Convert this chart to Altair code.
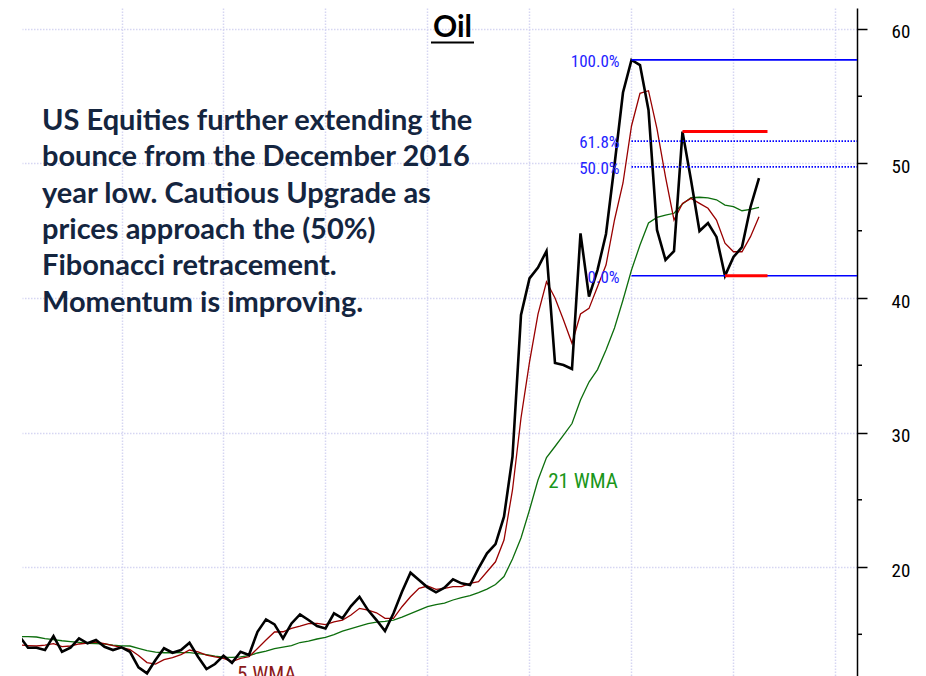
import altair as alt
import pandas as pd

# ---- data (monthly points, index 0..87) ----
CLOSE = [14.85, 14.0, 14.0, 13.83, 14.87, 13.70, 14.0, 14.70, 14.33, 14.57,
         14.07, 13.83, 14.03, 13.70, 12.54, 12.10, 13.09, 13.96, 13.63, 13.83,
         14.37, 13.33, 12.42, 12.79, 13.41, 12.88, 13.70, 13.46, 15.19, 16.11,
         15.74, 14.70, 15.81, 16.48, 16.06, 15.61, 15.44, 16.56, 16.19, 17.10,
         17.79, 16.80, 16.06, 15.24, 16.56, 18.16, 19.58, 19.03, 18.49, 18.12,
         18.46, 19.09, 18.79, 18.66, 19.90, 21.02, 21.71, 23.74, 28.20, 38.74,
         41.46, 42.27, 43.49, 35.17, 35.02, 34.72, 44.81, 40.10, 42.08, 44.76,
         49.89, 55.28, 57.70, 57.32, 53.98, 45.06, 42.83, 43.49, 52.37, 48.77,
         44.98, 45.58, 44.54, 41.65, 43.05, 43.79, 46.77, 48.92]
WMA5 = [14.20, 14.16, 14.13, 14.20, 14.31, 14.09, 14.13, 14.28, 14.35, 14.42,
        14.31, 14.16, 14.03, 13.87, 13.42, 12.90, 12.79, 13.12, 13.27, 13.49,
        13.83, 13.70, 13.46, 13.33, 13.21, 12.97, 13.21, 13.33, 13.94, 14.57,
        15.17, 15.19, 15.44, 15.61, 15.80, 15.81, 15.72, 15.93, 16.06, 16.43,
        16.93, 16.80, 16.60, 16.19, 16.19, 17.05, 17.79, 18.42, 18.59, 18.34,
        18.42, 18.54, 18.54, 18.79, 18.91, 19.65, 20.39, 22.01, 25.73, 31.08,
        35.24, 38.81, 41.21, 40.00, 38.36, 36.63, 38.81, 39.23, 40.84, 42.45,
        45.80, 48.55, 52.79, 55.22, 55.41, 52.57, 49.00, 45.80, 47.03, 47.41,
        47.04, 46.67, 45.80, 44.07, 43.44, 43.44, 44.56, 46.04]
WMA21 = [14.82, 14.82, 14.80, 14.68, 14.61, 14.52, 14.46, 14.40, 14.33, 14.31,
         14.28, 14.20, 14.14, 14.13, 13.96, 13.79, 13.68, 13.63, 13.63, 13.64,
         13.64, 13.57, 13.49, 13.38, 13.31, 13.29, 13.32, 13.42, 13.61, 13.75,
         13.94, 14.05, 14.16, 14.39, 14.50, 14.65, 14.77, 14.98, 15.24, 15.43,
         15.61, 15.80, 15.90, 15.96, 16.06, 16.28, 16.54, 16.80, 17.06, 17.20,
         17.32, 17.55, 17.73, 17.88, 18.10, 18.36, 18.70, 19.29, 20.59, 22.16,
         24.24, 26.47, 28.14, 28.96, 29.81, 30.67, 32.42, 33.75, 34.68, 36.13,
         37.77, 39.85, 42.08, 43.94, 45.58, 45.99, 46.17, 46.30, 46.99, 47.47,
         47.49, 47.45, 47.30, 46.91, 46.79, 46.49, 46.59, 46.74]

FIB_LABELS = ["100.0%", "61.8%", "50.0%", "0.0%"]
FIB_LEVELS = [57.70, 51.66, 49.75, 41.65]
FIB_DASHED = [False, True, True, False]
FIB_START = 72
FIB_LABEL_X = 70.6

RED_LEVELS = [52.37, 41.65]
RED_START = [78, 83]
RED_END = [88, 88]

Y_TICKS = [20, 30, 40, 50, 60]
Y_MINOR = [15, 25, 35, 45, 55]
X_GRID = [12, 24, 36, 48, 60, 72, 84, 96]

TITLE = "Oil"
PARAGRAPH = [
    "US Equities further extending the",
    "bounce from the December 2016",
    "year low. Cautious Upgrade as",
    "prices approach the (50%)",
    "Fibonacci retracement.",
    "Momentum is improving.",
]

X_DOMAIN = [0.294, 98.53]
Y_DOMAIN = [11.90, 61.56]
W, H = 835, 668

NARROW = "Liberation Sans Narrow, Roboto Condensed, DejaVu Sans Condensed, Arial Narrow, sans-serif"
BOLD = "Lato, Open Sans, sans-serif"

n = len(CLOSE)
df = pd.DataFrame({"i": list(range(n)), "close": CLOSE, "wma5": WMA5, "wma21": WMA21})
fib = pd.DataFrame({"lvl": FIB_LEVELS, "label": FIB_LABELS, "dashed": FIB_DASHED,
                    "x0": [FIB_START] * 4, "x1": [X_DOMAIN[1]] * 4, "lx": [FIB_LABEL_X] * 4})
red = pd.DataFrame({"lvl": RED_LEVELS, "x0": RED_START, "x1": RED_END})
minor = pd.DataFrame({"v": Y_MINOR})

xs = alt.Scale(domain=X_DOMAIN, nice=False, zero=False)
ys = alt.Scale(domain=Y_DOMAIN, nice=False, zero=False)
grid_col = "#d6d6f2"
xaxis = alt.Axis(values=X_GRID, grid=True, labels=False, ticks=False, domain=False, title=None,
                 gridColor=grid_col, gridDash=[1.5, 1.5], gridWidth=1.5)
yaxis = alt.Axis(values=Y_TICKS, orient="right", grid=True, title=None,
                 gridColor=grid_col, gridDash=[1.5, 1.5], gridWidth=1.5,
                 domainColor="black", domainWidth=1.5, tickColor="black", tickWidth=1.5,
                 tickSize=10, labelPadding=24, labelFont=NARROW, labelFontSize=19,
                 labelColor="black", labelAlign="left", labelOffset=3)

X = lambda f: alt.X(f, scale=xs, axis=xaxis)
Y = lambda f: alt.Y(f, scale=ys, axis=yaxis)

base = alt.Chart(df)
green = base.mark_line(color="#0d6e0d", strokeWidth=1.3, clip=True).encode(x=X("i:Q"), y=Y("wma21:Q"))
redl = base.mark_line(color="#990000", strokeWidth=1.3, clip=True).encode(x=X("i:Q"), y=Y("wma5:Q"))
black = base.mark_line(color="black", strokeWidth=2.6, clip=True).encode(x=X("i:Q"), y=Y("close:Q"))

fib_solid = alt.Chart(fib).transform_filter("!datum.dashed").mark_rule(
    color="#0000ff", strokeWidth=1.6).encode(x=X("x0:Q"), x2="x1:Q", y=Y("lvl:Q"))
fib_dot = alt.Chart(fib).transform_filter("datum.dashed").mark_rule(
    color="#0000ff", strokeWidth=1.6, strokeDash=[1.5, 1.5]).encode(x=X("x0:Q"), x2="x1:Q", y=Y("lvl:Q"))
fib_txt = alt.Chart(fib).mark_text(align="right", baseline="middle", dy=2, font=NARROW,
                                   fontSize=17, color="#2424ff").encode(
    x=X("lx:Q"), y=Y("lvl:Q"), text="label:N")

red_rules = alt.Chart(red).mark_rule(color="#ff0000", strokeWidth=3).encode(
    x=X("x0:Q"), x2="x1:Q", y=Y("lvl:Q"))

minor_ticks = alt.Chart(minor).mark_rule(color="black", strokeWidth=1.5).encode(
    y=Y("v:Q"), x=alt.value(W), x2=alt.value(W + 5))

lbl21 = alt.Chart(pd.DataFrame({"i": [62.2], "v": [25.87], "t": ["21 WMA"]})).mark_text(
    align="left", baseline="alphabetic", font=NARROW, fontSize=21, color="#1a961a").encode(
    x=X("i:Q"), y=Y("v:Q"), text="t:N")
lbl5 = alt.Chart(pd.DataFrame({"i": [25.6], "v": [11.52], "t": ["5 WMA"]})).mark_text(
    align="left", baseline="alphabetic", font=NARROW, fontSize=21, color="#8b1a1a").encode(
    x=X("i:Q"), y=Y("v:Q"), text="t:N")

title = alt.Chart(pd.DataFrame({"t": [TITLE]})).mark_text(
    align="center", baseline="alphabetic", font=BOLD, fontSize=30, fontWeight="bold", color="black").encode(
    x=alt.value(430.5), y=alt.value(29), text="t:N")
underline = alt.Chart(pd.DataFrame({"t": [TITLE]})).mark_rule(color="black", strokeWidth=2).encode(
    x=alt.value(409), x2=alt.value(452), y=alt.value(34.5))
para = alt.Chart(pd.DataFrame({"t": ["\n".join(PARAGRAPH)]})).mark_text(
    align="left", baseline="alphabetic", font=BOLD, fontSize=29, fontWeight="bold",
    color="#14253f", lineBreak="\n", lineHeight=36.3).encode(
    x=alt.value(20), y=alt.value(122), text="t:N")

chart = alt.layer(green, redl, black, fib_solid, fib_dot, fib_txt, red_rules, minor_ticks,
                  lbl21, lbl5, title, underline, para).properties(
    width=W, height=H,
    padding={"left": 14, "top": 0, "right": 60, "bottom": 0},
    autosize=alt.AutoSizeParams(type="none"),
    background="white",
).configure_view(stroke=None)

chart.save("out.html", embed_options={"renderer": "svg", "actions": False})
